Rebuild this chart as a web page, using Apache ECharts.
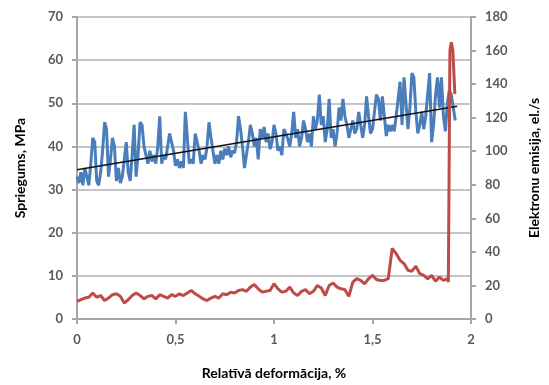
<!DOCTYPE html>
<html>
<head>
<meta charset="utf-8">
<script src="https://cdn.jsdelivr.net/npm/echarts@6/dist/echarts.min.js"></script>
<style>
  html, body { margin: 0; padding: 0; background: #fff; }
  #chart { width: 549px; height: 385px; }
</style>
</head>
<body>
<div id="chart"></div>
<script>
// x ticks (relatīvā deformācija, %)
const xTicks = [0, 0.5, 1, 1.5, 2];

// spriegums, MPa — one reading every 0.01 % starting at 0
const stressStep = 0.01;
const stress = [
  33, 31.5, 34, 31, 35, 33, 31, 36, 42, 41,
  32, 31, 34, 39, 45.6, 44, 33, 37, 42, 40,
  32, 35, 31.5, 33, 37, 41, 34, 32, 38, 45,
  33, 38, 45.6, 45, 40, 38, 36, 39, 36.5, 38,
  36, 40, 47, 36, 38, 37, 40, 43, 41, 39,
  35.5, 37, 35, 36.5, 35, 48, 42, 36, 37, 36,
  43, 41, 39, 36, 38, 37, 40, 45.6, 42, 39,
  36, 38, 36, 39, 37, 39.5, 38, 40, 37.5, 39,
  38.5, 41, 47, 44, 40, 35, 38, 41, 45, 43,
  40, 42, 37, 44, 42, 44.5, 41, 43, 39.4, 41,
  45, 43, 39, 40, 38, 44, 43, 41.7, 40, 43,
  48, 42, 44, 40, 42, 46, 44, 41, 43, 40,
  47, 44, 46, 52, 45, 47, 41, 44, 51, 42,
  44, 40, 43, 49, 46, 51, 47, 45, 42, 44,
  46, 43, 44, 48, 45, 42, 45, 51.6, 47, 43,
  44, 48, 52, 51, 46, 51.6, 47, 42.4, 45, 43.5,
  45, 43.5, 47, 51, 55, 45, 56, 50, 44, 49,
  57, 56, 48, 43, 45, 48, 44, 47, 52, 57,
  41, 45, 52, 56, 49, 56, 47, 43.5, 50, 53,
  52, 49, 46
];

// linear trend of the stress curve
const trendX = [0, 1.93];
const trendY = [34.6, 49.3];

// elektronu emisija, el./s — readings every 0.02 % from 0 to 1.88
const emissionStep = 0.02;
const emission = [
  10.5, 11.5, 12.5, 13, 15.5, 13, 14, 11, 12.5, 14.5,
  15, 13.5, 9.5, 11.5, 14, 15.5, 14, 12, 13.5, 14,
  12, 14.5, 13.5, 12.5, 14.5, 13.5, 15, 14, 15.5, 17,
  15, 13.5, 12, 11, 12.5, 13.5, 12.5, 15, 14.5, 16,
  15.5, 17, 17.5, 16.5, 19, 20.5, 18, 16, 16.5, 17,
  21, 18, 16, 16.5, 19, 15.5, 14, 16.5, 17.5, 15,
  16.5, 20, 18.5, 14, 20, 21.5, 19, 18, 17.5, 13.5,
  22, 24, 23, 21, 24, 26, 23.5, 23, 23, 24,
  42, 39, 35, 33, 29, 28.5, 31.5, 27, 26, 24,
  26, 22.5, 25, 23, 24
];
// final burst
const burstX = [1.885, 1.893, 1.9, 1.908, 1.918];
const burstY = [22, 160, 165, 160, 134];

const stressData = stress.map((v, i) => [+(i * stressStep).toFixed(3), v]);
const emissionData = emission
  .map((v, i) => [+(i * emissionStep).toFixed(3), v])
  .concat(burstX.map((x, i) => [x, burstY[i]]));
const trendData = trendX.map((x, i) => [x, trendY[i]]);

const font = 'Lato, "Open Sans", sans-serif';
const tickLabel = { color: '#595959', fontSize: 13, fontWeight: 'bold', fontFamily: font };
const titleStyle = { color: '#000', fontSize: 14, fontWeight: 'bold', fontFamily: font };
const axisGrey = '#a6a6a6';

const chart = echarts.init(document.getElementById('chart'));
chart.setOption({
  animation: false,
  backgroundColor: '#fff',
  grid: { left: 77, right: 72, top: 17, bottom: 64 },
  xAxis: {
    type: 'value',
    min: xTicks[0],
    max: xTicks[xTicks.length - 1],
    interval: 0.5,
    name: 'Relatīvā deformācija, %',
    nameLocation: 'middle',
    nameGap: 47,
    nameTextStyle: titleStyle,
    axisLine: { show: true, lineStyle: { color: axisGrey, width: 2 } },
    axisTick: { show: true, length: 5, lineStyle: { color: axisGrey, width: 2 } },
    axisLabel: Object.assign({ margin: 14, formatter: v => String(v).replace('.', ',') }, tickLabel),
    splitLine: { show: false }
  },
  yAxis: [
    {
      type: 'value',
      min: 0, max: 70, interval: 10,
      name: 'Spriegums, MPa',
      nameLocation: 'middle',
      nameGap: 50,
      nameTextStyle: titleStyle,
      axisLine: { show: true, lineStyle: { color: axisGrey, width: 2 } },
      axisTick: { show: true, length: 5, lineStyle: { color: axisGrey, width: 2 } },
      axisLabel: Object.assign({ margin: 14 }, tickLabel),
      splitLine: { show: true, lineStyle: { color: '#c4c4c4', width: 2 } }
    },
    {
      type: 'value',
      min: 0, max: 180, interval: 20,
      position: 'right',
      name: 'Elektronu emisija, el./s',
      nameLocation: 'middle',
      nameGap: 56,
      nameRotate: 90,
      nameTextStyle: titleStyle,
      axisLine: { show: true, lineStyle: { color: axisGrey, width: 2 } },
      axisTick: { show: true, length: 5, lineStyle: { color: axisGrey, width: 2 } },
      axisLabel: Object.assign({ margin: 14 }, tickLabel),
      splitLine: { show: false }
    }
  ],
  series: [
    {
      name: 'Spriegums',
      type: 'line',
      yAxisIndex: 0,
      data: stressData,
      showSymbol: false,
      lineStyle: { color: '#4a7ebb', width: 3 },
      z: 2
    },
    {
      name: 'Trend',
      type: 'line',
      yAxisIndex: 0,
      data: trendData,
      showSymbol: false,
      lineStyle: { color: '#111', width: 1.6 },
      z: 3
    },
    {
      name: 'Elektronu emisija',
      type: 'line',
      yAxisIndex: 1,
      data: emissionData,
      showSymbol: false,
      lineStyle: { color: '#be4b48', width: 3 },
      z: 4
    }
  ]
});
</script>
</body>
</html>
